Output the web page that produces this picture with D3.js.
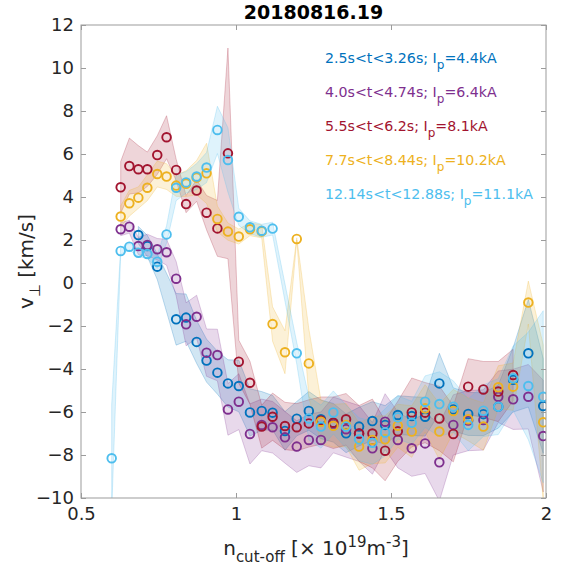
<!DOCTYPE html>
<html><head><meta charset="utf-8">
<script src="https://cdn.jsdelivr.net/npm/d3@7"></script>
<style>
body{margin:0;background:#fff}
svg{display:block}
text{font-family:"DejaVu Sans",sans-serif}
</style>
</head><body>
<svg id="c" width="563" height="567"></svg>
<script>
// ---------------- data ----------------
const nCutoff = [0.599,0.628,0.656,0.685,0.714,0.746,0.776,0.807,0.839,0.873,0.905,0.940,0.974,1.009,1.045,1.083,1.118,1.158,1.196,1.235,1.274,1.314,1.355,1.397,1.440,1.481,1.522,1.567,1.610,1.656,1.701,1.749,1.798,1.846,1.894,1.943,1.991];

const vBlue = [null,null,null,2.23,1.72,0.76,null,-1.69,-1.61,-2.74,-3.61,-4.17,-4.67,-4.79,-6.02,-5.95,-6.03,-6.88,-6.31,-5.95,-6.34,-6.5,-6.99,-6.68,-6.42,-6.6,-6.14,-6.19,-6.22,-4.67,-5.88,-6.09,-6.1,-5.75,-4.5,-3.27,-5.72];
const eBlue = [0,0,0,0.4,0.5,0.6,0,1.2,1.1,1.0,1.0,1.0,1.1,1.2,1.1,0.9,0.8,0.9,0.8,0.9,0.9,0.9,0.9,0.9,0.9,0.9,0.9,0.9,0.9,1.4,1.0,1.0,1.0,1.0,1.5,2.5,2.2];

const vPurple = [null,2.50,2.62,1.72,1.77,1.57,1.43,0.2,-1.92,-1.57,-3.24,-3.35,-5.88,-5.52,-7.02,-6.6,-6.71,-7.18,-7.61,-7.30,-7.30,-6.6,-6.8,-7.0,-7.69,-6.45,-7.30,-7.69,-7.46,-8.34,-6.6,-6.4,-6.37,-5.29,-5.41,-5.29,-7.12];
const ePurple = [0,0.3,0.3,0.4,0.5,0.5,0.6,0.8,1.0,1.0,1.1,1.2,1.2,1.3,1.4,1.2,1.2,1.2,1.2,1.2,1.3,1.3,1.3,1.3,1.2,1.3,1.3,1.3,1.4,1.8,1.4,1.4,1.4,1.2,1.4,1.5,2.6];

const vRed = [null,4.45,5.44,5.29,5.29,5.95,6.78,5.26,3.67,4.30,3.27,2.54,6.03,-3.66,-4.64,-6.68,-6.22,-6.65,-6.71,-6.53,-6.4,-6.50,-6.34,-7.0,-7.0,-7.8,-6.9,-6.02,-6.03,-6.3,-7.02,-4.82,-4.95,-5.05,-4.28,null,null];
const eRed = [0,1.2,1.3,1.1,0.8,0.9,1.0,0.5,0.4,0.5,0.8,1.3,4.9,1.0,1.0,1.0,1.1,1.1,1.1,1.1,1.1,1.2,1.2,1.3,1.6,1.4,1.4,1.6,1.4,1.5,1.3,1.3,1.3,1.4,1.2,0,0];

const vYellow = [null,3.09,3.71,3.97,4.43,5.07,4.95,4.53,4.62,4.9,5.10,2.98,2.39,2.16,2.50,2.4,-1.91,-3.22,2.05,-3.74,-6.45,-6.64,-6.61,-7.61,-7.30,-7.27,-6.64,-6.91,-5.83,-6.91,-5.95,-6.34,-6.68,-4.85,-4.82,-0.91,-6.48];
const eYellow = [0,0.5,0.6,0.5,0.6,0.6,0.6,0.5,0.6,0.8,1.4,0.6,0.4,0.35,0.3,0.3,0.8,1.0,0.05,1.6,1.0,1.0,1.0,1.1,1.1,1.1,1.0,1.2,1.1,1.3,1.0,1.0,1.1,1.0,1.1,1.0,3.6];

const vLightBlue = [-8.15,1.49,1.69,1.41,1.35,0.99,2.26,4.43,4.68,4.95,5.37,7.12,5.72,3.08,2.59,2.43,2.53,null,-3.27,-6.30,-6.68,-6.02,-6.68,-7.27,-7.43,-6.95,-6.25,-6.50,-5.52,-5.63,-5.75,-6.60,-5.94,-5.75,-4.43,-4.79,-5.29];
const eLightBlue = [2.5,0.15,0.15,0.2,0.2,0.3,0.4,0.6,0.5,0.6,0.7,1.1,1.5,0.4,0.3,0.3,0.3,0,0.5,1.0,1.0,1.0,1.0,1.0,1.0,1.1,1.0,1.0,1.2,1.5,1.2,1.2,1.2,1.3,1.5,2.5,4.0];

const seriesNames = ["2.5s<t<3.26s; I", "4.0s<t<4.74s; I", "5.5s<t<6.2s; I", "7.7s<t<8.44s; I", "12.14s<t<12.88s; I"];
const seriesIp = ["=4.4kA", "=6.4kA", "=8.1kA", "=10.2kA", "=11.1kA"];
const seriesColors = ["#0072BD", "#7E2F8E", "#A2142F", "#EDB120", "#4DBEEE"];
const xTicks = [0.5, 1, 1.5, 2];
const yTicks = [-10,-8,-6,-4,-2,0,2,4,6,8,10,12];
const titleText = "20180816.19";

const seriesVals = [vBlue, vPurple, vRed, vYellow, vLightBlue];
const seriesErr = [eBlue, ePurple, eRed, eYellow, eLightBlue];

// ---------------- chart ----------------
const svg = d3.select("#c");
const L = 81, R = 546, T = 25, B = 498;
const x = d3.scaleLinear().domain([0.5, 2]).range([L, R]);
const y = d3.scaleLinear().domain([-10, 12]).range([B, T]);
const axisCol = "#9b9b9b", textCol = "#262626";

svg.append("defs").append("clipPath").attr("id","clip")
  .append("rect").attr("x",L).attr("y",T).attr("width",R-L).attr("height",B-T);

const plot = svg.append("g").attr("clip-path","url(#clip)");

const area = d3.area()
  .x(d => x(d.n)).y0(d => y(d.v - d.e)).y1(d => y(d.v + d.e));

const allPts = seriesVals.map((vals, s) =>
  vals.map((v, i) => ({n: nCutoff[i], v: v, e: seriesErr[s][i]})).filter(d => d.v !== null));

allPts.forEach((pts, s) => {
  plot.append("path").datum(pts).attr("d", area)
    .attr("fill", seriesColors[s]).attr("fill-opacity", 0.18)
    .attr("stroke", seriesColors[s]).attr("stroke-opacity", 0.3).attr("stroke-width", 0.8);
});
allPts.forEach((pts, s) => {
  plot.append("g").selectAll("circle").data(pts).join("circle")
    .attr("cx", d => x(d.n)).attr("cy", d => y(d.v)).attr("r", 4.3)
    .attr("fill", "none").attr("stroke", seriesColors[s]).attr("stroke-width", 1.9);
});

// axes
const fs = 18;
const gx = svg.append("g").attr("transform", `translate(0,${B})`)
  .call(d3.axisBottom(x).tickValues(xTicks).tickFormat(d3.format("")).tickSize(-5).tickPadding(9));
const gxt = svg.append("g").attr("transform", `translate(0,${T})`)
  .call(d3.axisTop(x).tickValues(xTicks).tickFormat("").tickSize(-5));
const gy = svg.append("g").attr("transform", `translate(${L},0)`)
  .call(d3.axisLeft(y).tickValues(yTicks).tickFormat(d3.format("")).tickSize(-5).tickPadding(7));
const gyr = svg.append("g").attr("transform", `translate(${R},0)`)
  .call(d3.axisRight(y).tickValues(yTicks).tickFormat("").tickSize(-5));
[gx, gxt, gy, gyr].forEach(g => {
  g.select(".domain").remove();
  g.selectAll(".tick line").attr("stroke", axisCol);
  g.selectAll(".tick text").attr("fill", textCol).style("font-size", fs + "px")
   .style("font-family", "DejaVu Sans");
});
svg.append("rect").attr("x", L).attr("y", T).attr("width", R - L).attr("height", B - T)
  .attr("fill", "none").attr("stroke", axisCol).attr("stroke-width", 1);

// title
svg.append("text").attr("x", (L + R) / 2).attr("y", 19).attr("text-anchor", "middle")
  .attr("fill", "#000").style("font-size", "19px").style("font-weight", "bold").text(titleText);

// legend annotations
seriesNames.forEach((nm, s) => {
  const t = svg.append("text").attr("x", 325).attr("y", 63 + s * 34)
    .attr("fill", seriesColors[s]).style("font-size", "14.2px");
  t.append("tspan").text(nm);
  t.append("tspan").attr("dy", 6).style("font-size", "12px").text("p");
  t.append("tspan").attr("dy", -6).text(seriesIp[s]);
});

// x label
const xl = svg.append("text").attr("x", 316).attr("y", 555).attr("text-anchor", "middle")
  .attr("fill", textCol).style("font-size", "20px");
xl.append("tspan").text("n");
xl.append("tspan").attr("dy", 7).style("font-size", "15px").text("cut-off");
xl.append("tspan").attr("dy", -7).text(" [\u00D7 10");
xl.append("tspan").attr("dy", -8).style("font-size", "15px").text("19");
xl.append("tspan").attr("dy", 8).text("m");
xl.append("tspan").attr("dy", -8).style("font-size", "15px").text("-3");
xl.append("tspan").attr("dy", 8).text("]");

// y label
const yl = svg.append("text").attr("transform", `translate(33,${(T + B) / 2}) rotate(-90)`)
  .attr("text-anchor", "middle").attr("fill", textCol).style("font-size", "20px");
yl.append("tspan").text("v");
yl.append("tspan").attr("dy", 7).style("font-size", "15px").text("\u22A5");
yl.append("tspan").attr("dy", -7).text(" [km/s]");
</script>
</body></html>
